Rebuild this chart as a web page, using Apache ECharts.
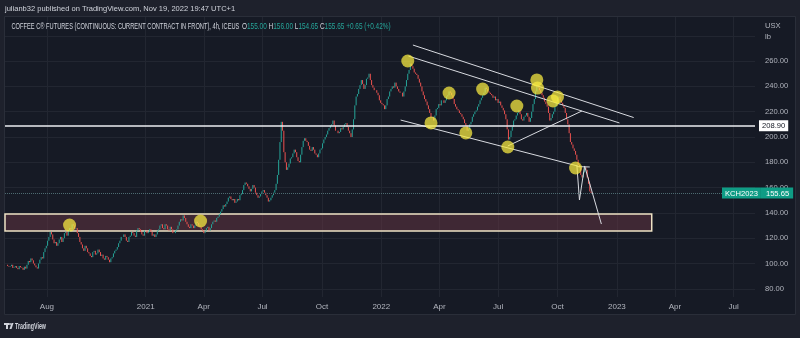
<!DOCTYPE html>
<html>
<head>
<meta charset="utf-8">
<script src="https://cdn.jsdelivr.net/npm/echarts@6/dist/echarts.min.js"></script>
<style>
  html, body { margin: 0; padding: 0; background: #1e212c; }
  #chart { width: 800px; height: 338px; }
</style>
</head>
<body>
<div id="chart"></div>
<script>
// Time window of the pane: one category per calendar day
const axisStart = '2020-05-28';
const axisEnd = '2023-08-03';

// Coffee C continuous contract, one candle every 2 days from the first bar
const firstBar = '2020-06-01';
const barStepDays = 2;
const firstOpen = 99;
const closes = [
  98, 97.5, 98, 99, 96.5, 97, 98, 96.5, 95.5, 98, 97, 96.5, 95, 97.5, 96, 99, 102, 101, 104, 102.5, 100,
  98.5, 97, 96, 100, 103, 105, 104, 109, 112, 114, 118, 121, 125, 123, 119, 116, 117, 114, 116, 119,
  121, 117, 120, 124, 125, 122, 125, 128, 127, 131, 130, 127, 128, 124, 121, 117, 115, 112, 110, 114,
  112, 109, 108, 106, 105, 109, 110, 107, 108, 111, 109, 106, 107, 104, 103, 106, 105, 103, 101, 104,
  105, 108, 110, 111, 113, 116, 118, 121, 121, 123, 121, 118, 117, 121, 122, 125, 124, 122, 121, 126,
  128, 127, 125, 123, 122, 126, 126, 124, 125, 127, 125, 122, 123, 121, 123, 126, 127, 130, 131, 128,
  127, 131, 130, 127, 126, 129, 127, 124, 124, 126, 127, 130, 133, 135, 134, 138, 136, 133, 131, 129,
  128, 131, 130, 128, 130, 133, 132, 130, 129, 127, 126, 124, 126, 128, 129, 126, 128, 131, 133, 134,
  133, 136, 137, 139, 141, 143, 146, 145, 147, 149, 152, 153, 151, 150, 151, 148, 149, 151, 150, 154,
  155, 158, 162, 164, 163, 161, 159, 157, 159, 162, 160, 156, 154, 152, 153, 155, 157, 158, 156, 154,
  152, 149, 150, 152, 154, 156, 158, 163, 170, 182, 196, 212, 205, 188, 180, 174, 176, 179, 183, 184,
  187, 190, 188, 184, 181, 180, 186, 192, 197, 199, 197, 196, 193, 190, 189, 192, 190, 187, 186, 184,
  187, 190, 191, 195, 198, 200, 202, 205, 207, 209, 210, 213, 209, 205, 205, 203, 204, 207, 206, 208,
  210, 211, 208, 205, 203, 200, 206, 214, 225, 232, 234, 238, 241, 245, 242, 238, 241, 246, 247, 250,
  245, 241, 239, 237, 237, 235, 233, 229, 227, 226, 225, 222, 225, 230, 232, 236, 238, 240, 239, 243,
  240, 238, 236, 235, 235, 232, 236, 240, 245, 250, 253, 258, 256, 254, 251, 250, 249, 246, 243, 240,
  236, 233, 230, 228, 225, 222, 219, 215, 216, 213, 217, 222, 223, 226, 225, 229, 229, 227, 229, 232,
  233, 236, 235, 233, 230, 226, 224, 222, 221, 219, 218, 216, 214, 211, 209, 205, 206, 210, 212, 216,
  218, 220, 221, 224, 226, 229, 231, 233, 235, 239, 238, 236, 235, 234, 233, 231, 232, 229, 230, 227,
  228, 225, 223, 221, 218, 214, 206, 198, 200, 205, 208, 213, 214, 217, 219, 221, 218, 214, 213, 216,
  217, 219, 216, 212, 215, 220, 226, 230, 236, 241, 239, 237, 235, 233, 231, 228, 226, 224, 219, 213,
  215, 218, 220, 224, 228, 231, 232, 229, 227, 225, 223, 219, 214, 210, 203, 196, 194, 191, 189, 186,
  182, 178, 176, 170, 168, 172, 176, 174, 168, 163, 157, 155.65
];

// Time scale tick labels
const xTickDates = ['2020-08-01', '2021-01-01', '2021-04-01', '2021-07-01', '2021-10-01', '2022-01-01',
                    '2022-04-01', '2022-07-01', '2022-10-01', '2023-01-01', '2023-04-01', '2023-07-01'];
const xTickLabels = ['Aug', '2021', 'Apr', 'Jul', 'Oct', '2022', 'Apr', 'Jul', 'Oct', '2023', 'Apr', 'Jul'];
// Price scale tick labels
const yTicks = [80, 100, 120, 140, 160, 180, 200, 220, 240, 260];

// Drawing tools
const resistanceLevel = 208.90;
const lastPrice = 155.65;
const supportZoneDates = ['2020-05-28', '2023-02-24'];
const supportZonePrices = [139.1, 125.7];
const trendLines = [
  [['2022-02-19', 272.7], ['2023-01-27', 215.4]],
  [['2022-02-12', 264.0], ['2023-01-05', 211.1]],
  [['2022-01-31', 213.4], ['2022-11-01', 177.1]],
  [['2022-07-16', 192.9], ['2022-11-08', 220.6]],
  [['2022-10-31', 177.9], ['2022-11-04', 150.2], ['2022-11-12', 177.1], ['2022-12-08', 131.2]],
  [['2022-10-31', 176.6], ['2022-11-20', 176.3]]
];
const touchPoints = [
  ['2020-09-05', 130.4], ['2021-03-27', 133.6], ['2022-02-11', 260.1], ['2022-03-19', 211.1],
  ['2022-04-16', 234.8], ['2022-05-12', 203.2], ['2022-06-07', 237.9], ['2022-07-16', 192.1],
  ['2022-07-30', 224.5], ['2022-08-30', 245.1], ['2022-08-31', 238.7], ['2022-09-24', 228.5],
  ['2022-10-01', 231.6], ['2022-10-29', 175.5]
];

const DAY = 86400000;
const t0 = Date.parse(axisStart + 'T00:00:00Z');
const dayIndex = s => Math.round((Date.parse(s + 'T00:00:00Z') - t0) / DAY);

const categories = [];
for (let t = t0; t <= Date.parse(axisEnd + 'T00:00:00Z'); t += DAY) {
  categories.push(new Date(t).toISOString().slice(0, 10));
}

const candleData = categories.map(() => '-');
closes.forEach((c, i) => {
  const o = i === 0 ? firstOpen : closes[i - 1];
  candleData[dayIndex(firstBar) + i * barStepDays] = [o, c, Math.min(o, c), Math.max(o, c)];
});

const tickSet = new Set(xTickDates);
const showTick = (idx, value) => tickSet.has(value);

const GRID = '#222631';
const TEXT = '#b2b5be';
const UP = '#26a69a';
const DOWN = '#ef5350';
const FONT = '"Liberation Sans", Arial, sans-serif';

const chart = echarts.init(document.getElementById('chart'), null, { renderer: 'canvas' });

const lineSeries = trendLines.map(pts => ({
  type: 'line',
  xAxisIndex: 0, yAxisIndex: 0,
  data: pts.map(p => [dayIndex(p[0]), p[1]]),
  symbol: 'none',
  lineStyle: { color: '#d8dae0', width: 1 },
  z: 4,
  silent: true
}));

chart.setOption({
  animation: false,
  backgroundColor: '#1e212c',
  textStyle: { fontFamily: FONT },
  grid: [
    { left: 5, right: 45, top: 17, bottom: 41 },
    { left: 5, right: 45, top: 10.5, bottom: 23.9 }
  ],
  xAxis: [
    {
      type: 'category', gridIndex: 0, data: categories, boundaryGap: false,
      axisLine: { show: false }, axisTick: { show: false },
      axisLabel: {
        interval: showTick, color: TEXT, fontSize: 8, margin: 6,
        formatter: v => xTickLabels[xTickDates.indexOf(v)]
      },
      splitLine: { show: true, interval: showTick, lineStyle: { color: GRID, width: 1 } }
    },
    { type: 'value', gridIndex: 1, show: false }
  ],
  yAxis: [
    { type: 'value', gridIndex: 0, min: 73.52, max: 294.86, show: false },
    {
      type: 'value', gridIndex: 1, min: 60, max: 300, interval: 20, position: 'right',
      axisLine: { show: false }, axisTick: { show: false },
      axisLabel: {
        color: TEXT, fontSize: 7.6, margin: 10,
        formatter: v => (yTicks.indexOf(v) >= 0 ? v.toFixed(2) : '')
      },
      splitLine: { show: true, showMinLine: false, showMaxLine: false, lineStyle: { color: GRID, width: 1 } }
    }
  ],
  graphic: [
    { type: 'rect', z: -10, shape: { x: 4.5, y: 16.5, width: 791, height: 298 },
      style: { fill: '#161a25', stroke: '#2a2e39', lineWidth: 1 } },
    { type: 'text', x: 5, y: 9, scaleX: 0.94, z: 10,
      style: { text: 'julianb32 published on TradingView.com, Nov 19, 2022 19:47 UTC+1',
               fill: '#d1d4dc', font: '8px ' + FONT, verticalAlign: 'middle' } },
    { type: 'text', x: 11.5, y: 27, scaleX: 0.67, z: 10,
      style: { text: 'COFFEE C® FUTURES (CONTINUOUS: CURRENT CONTRACT IN FRONT), 4h, ICEUS',
               fill: '#d1d4dc', font: '8.5px ' + FONT, verticalAlign: 'middle' } },
    { type: 'text', x: 242, y: 27, scaleX: 0.76, z: 10,
      style: {
        text: '{k|O}{v|155.00} {k|H}{v|156.00} {k|L}{v|154.65} {k|C}{v|155.65} {v|+0.65 (+0.42%)}',
        verticalAlign: 'middle', font: '8.5px ' + FONT,
        rich: {
          k: { fill: '#d1d4dc', font: '8.5px ' + FONT },
          v: { fill: UP, font: '8.5px ' + FONT }
        }
      } },
    { type: 'text', x: 765, y: 26, z: 10,
      style: { text: 'USX', fill: TEXT, font: '7.6px ' + FONT, verticalAlign: 'middle' } },
    { type: 'text', x: 765, y: 37, z: 10,
      style: { text: 'lb', fill: TEXT, font: '7.6px ' + FONT, verticalAlign: 'middle' } },
    // TradingView mark
    { type: 'rect', z: 10, shape: { x: 4, y: 323, width: 5, height: 2 }, style: { fill: '#d1d4dc' } },
    { type: 'rect', z: 10, shape: { x: 6, y: 323, width: 2, height: 6 }, style: { fill: '#d1d4dc' } },
    { type: 'circle', z: 10, shape: { cx: 10, cy: 324, r: 1 }, style: { fill: '#d1d4dc' } },
    { type: 'polygon', z: 10, shape: { points: [[11.5, 323], [13.5, 323], [11.5, 329], [9.5, 329]] }, style: { fill: '#d1d4dc' } },
    { type: 'text', x: 15, y: 327, scaleX: 0.62, z: 10,
      style: { text: 'TradingView', fill: '#d1d4dc', font: '600 8.5px ' + FONT, verticalAlign: 'middle' } }
  ],
  series: [
    {
      type: 'candlestick',
      xAxisIndex: 0, yAxisIndex: 0,
      data: candleData,
      barWidth: 1.6,
      itemStyle: { color: UP, color0: DOWN, borderColor: UP, borderColor0: DOWN, borderWidth: 1 },
      z: 3,
      markArea: {
        silent: true,
        itemStyle: { color: 'rgba(98, 52, 66, 0.55)', borderColor: '#eee2c4', borderWidth: 1.5 },
        data: [[
          { coord: [dayIndex(supportZoneDates[0]), supportZonePrices[0]] },
          { coord: [dayIndex(supportZoneDates[1]), supportZonePrices[1]] }
        ]]
      },
      markLine: {
        silent: true,
        symbol: ['none', 'none'],
        data: [
          {
            yAxis: resistanceLevel,
            lineStyle: { color: '#eceef2', width: 1.5, type: 'solid' },
            label: { show: true, position: 'end', distance: 4, formatter: resistanceLevel.toFixed(2),
                     backgroundColor: '#ffffff', color: '#131722', fontSize: 7.6, padding: [2, 3, 1, 3] }
          },
          {
            yAxis: lastPrice,
            lineStyle: { color: '#4d6a70', width: 1, type: 'dotted' },
            label: {
              show: true, position: 'end', distance: -33,
              formatter: '{a|KCH2023}{b|' + lastPrice.toFixed(2) + '}',
              rich: {
                a: { backgroundColor: '#0f9c85', color: '#ffffff', fontSize: 7.6, padding: [2, 3, 1, 3] },
                b: { backgroundColor: '#0f9c85', color: '#ffffff', fontSize: 7.6, padding: [2, 4, 1, 5] }
              }
            }
          }
        ]
      }
    },
    ...lineSeries,
    {
      type: 'scatter',
      xAxisIndex: 0, yAxisIndex: 0,
      data: touchPoints.map(p => [dayIndex(p[0]), p[1]]),
      symbolSize: 13,
      itemStyle: { color: 'rgba(246, 232, 64, 0.93)' },
      z: 6,
      silent: true
    }
  ]
});
</script>
</body>
</html>
